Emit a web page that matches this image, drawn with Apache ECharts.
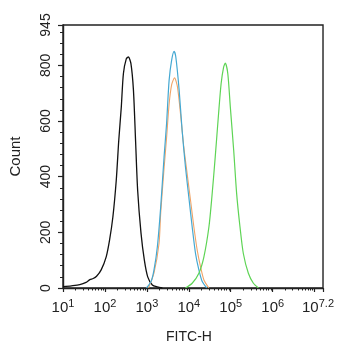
<!DOCTYPE html>
<html>
<head>
<meta charset="utf-8">
<script src="https://cdn.jsdelivr.net/npm/echarts@6/dist/echarts.min.js"></script>
<style>
  html, body { margin: 0; padding: 0; background: #fff; }
  #chart { width: 342px; height: 350px; }
</style>
</head>
<body>
<div id="chart"></div>
<script>
// Flow cytometry histograms: FITC-H intensity (log10 decades) vs event count.
const isotypeLog   = [1.00, 1.20, 1.40, 1.55, 1.64, 1.72, 1.80, 1.91, 2.03, 2.11, 2.19, 2.27, 2.33, 2.39, 2.44, 2.51, 2.56, 2.62, 2.68, 2.73, 2.78, 2.86, 2.94, 3.02, 3.13, 3.25, 3.37];
const isotypeCount = [5, 8, 12, 20, 30, 34, 42, 65, 112, 172, 256, 387, 531, 650, 770, 824, 830, 806, 710, 531, 351, 197, 100, 40, 11, 4, 0];

const sampleALog   = [3.04, 3.17, 3.29, 3.33, 3.41, 3.47, 3.53, 3.59, 3.66, 3.73, 3.81, 3.88, 3.96, 4.04, 4.12, 4.20, 4.28, 4.36, 4.48];
const sampleACount = [0, 54, 160, 270, 430, 540, 660, 730, 755, 722, 614, 507, 411, 316, 220, 136, 76, 29, 0];

const sampleBLog   = [2.99, 3.10, 3.17, 3.25, 3.33, 3.41, 3.47, 3.53, 3.59, 3.65, 3.69, 3.77, 3.84, 3.92, 4.00, 4.08, 4.16, 4.24, 4.32, 4.43];
const sampleBCount = [0, 23, 65, 148, 292, 471, 591, 746, 818, 850, 830, 710, 567, 435, 327, 220, 124, 65, 23, 0];

const sampleCLog   = [3.92, 4.08, 4.24, 4.36, 4.48, 4.55, 4.63, 4.71, 4.77, 4.83, 4.87, 4.93, 4.99, 5.07, 5.14, 5.22, 5.30, 5.42, 5.54, 5.66];
const sampleCCount = [0, 17, 53, 112, 220, 327, 471, 627, 734, 794, 808, 770, 650, 495, 340, 220, 124, 53, 17, 0];

// Axis ticks (x in decades, y in counts)
const xMajorTicks = [1, 2, 3, 4, 5, 6, 7, 7.2];
const xTickLabels = [1, 2, 3, 4, 5, 6, 7.2];
const yMajorTicks = [0, 200, 400, 600, 800, 945];

const xMinorTicks = [];
for (let d = 1; d <= 6; d++) {
  for (let k = 2; k <= 9; k++) xMinorTicks.push(d + Math.log10(k));
}
const yMinorTicks = [];
for (let v = 40; v < 945; v += 40) if (v % 200 !== 0) yMinorTicks.push(v);

const zip = (xs, ys) => xs.map((x, i) => [x, ys[i]]);

const textColor = '#222';
const baseFont = 'Liberation Sans, Arial, sans-serif';

const chart = echarts.init(document.getElementById('chart'), null, { renderer: 'canvas' });

function histSeries(name, xs, ys, color, width) {
  return {
    name, type: 'line', data: zip(xs, ys),
    showSymbol: false, smooth: 0.25,
    lineStyle: { color, width },
    silent: true, animation: false
  };
}

chart.setOption({
  animation: false,
  backgroundColor: '#fff',
  grid: {
    left: 63, right: 16, top: 25, bottom: 62,
    show: true, borderColor: '#222', borderWidth: 1.4, backgroundColor: 'transparent'
  },
  xAxis: [
    {
      type: 'value', min: 1, max: 7.2, position: 'bottom',
      name: 'FITC-H', nameLocation: 'middle', nameGap: 42,
      nameTextStyle: { fontFamily: baseFont, fontSize: 14, color: textColor, padding: [0, 8, 0, 0] },
      axisLine: { show: true, lineStyle: { color: '#222', width: 1.4 } },
      axisTick: { show: true, customValues: xMajorTicks, length: 4, lineStyle: { color: '#222', width: 1.2 } },
      splitLine: { show: false },
      axisLabel: {
        customValues: xTickLabels, margin: 10, color: textColor,
        formatter: (v) => {
          const exp = Math.abs(v - 7.2) < 1e-6 ? '7.2' : String(Math.round(v));
          return '{b|10}{s|' + exp + '}' + (exp === '7.2' ? '{gap|}' : '');
        },
        rich: {
          b: { fontFamily: baseFont, fontSize: 15, color: textColor, verticalAlign: 'bottom' },
          s: { fontFamily: baseFont, fontSize: 11, color: textColor, verticalAlign: 'bottom', padding: [0, 0, 6, 0] },
          gap: { width: 10 }
        }
      }
    },
    {
      type: 'value', min: 1, max: 7.2, position: 'bottom',
      axisLine: { show: false },
      axisTick: { show: true, customValues: xMinorTicks, length: 2.5, lineStyle: { color: '#222', width: 1 } },
      axisLabel: { show: false },
      splitLine: { show: false }
    }
  ],
  yAxis: [
    {
      type: 'value', min: 0, max: 945, position: 'left',
      name: 'Count', nameLocation: 'middle', nameGap: 40,
      nameTextStyle: { fontFamily: baseFont, fontSize: 15, color: textColor },
      axisLine: { show: true, lineStyle: { color: '#222', width: 1.4 } },
      axisTick: { show: true, customValues: yMajorTicks, length: 5, lineStyle: { color: '#222', width: 1.2 } },
      splitLine: { show: false },
      axisLabel: {
        customValues: yMajorTicks, rotate: 90, margin: 10,
        fontFamily: baseFont, fontSize: 14, color: textColor
      }
    },
    {
      type: 'value', min: 0, max: 945, position: 'left',
      axisLine: { show: false },
      axisTick: { show: true, customValues: yMinorTicks, length: 3, lineStyle: { color: '#222', width: 1 } },
      axisLabel: { show: false },
      splitLine: { show: false }
    }
  ],
  series: [
    histSeries('isotype', isotypeLog, isotypeCount, '#111111', 1.3),
    histSeries('sampleA', sampleALog, sampleACount, '#f0a468', 1.1),
    histSeries('sampleB', sampleBLog, sampleBCount, '#44a8d2', 1.2),
    histSeries('sampleC', sampleCLog, sampleCCount, '#5ed455', 1.2)
  ]
});
</script>
</body>
</html>
